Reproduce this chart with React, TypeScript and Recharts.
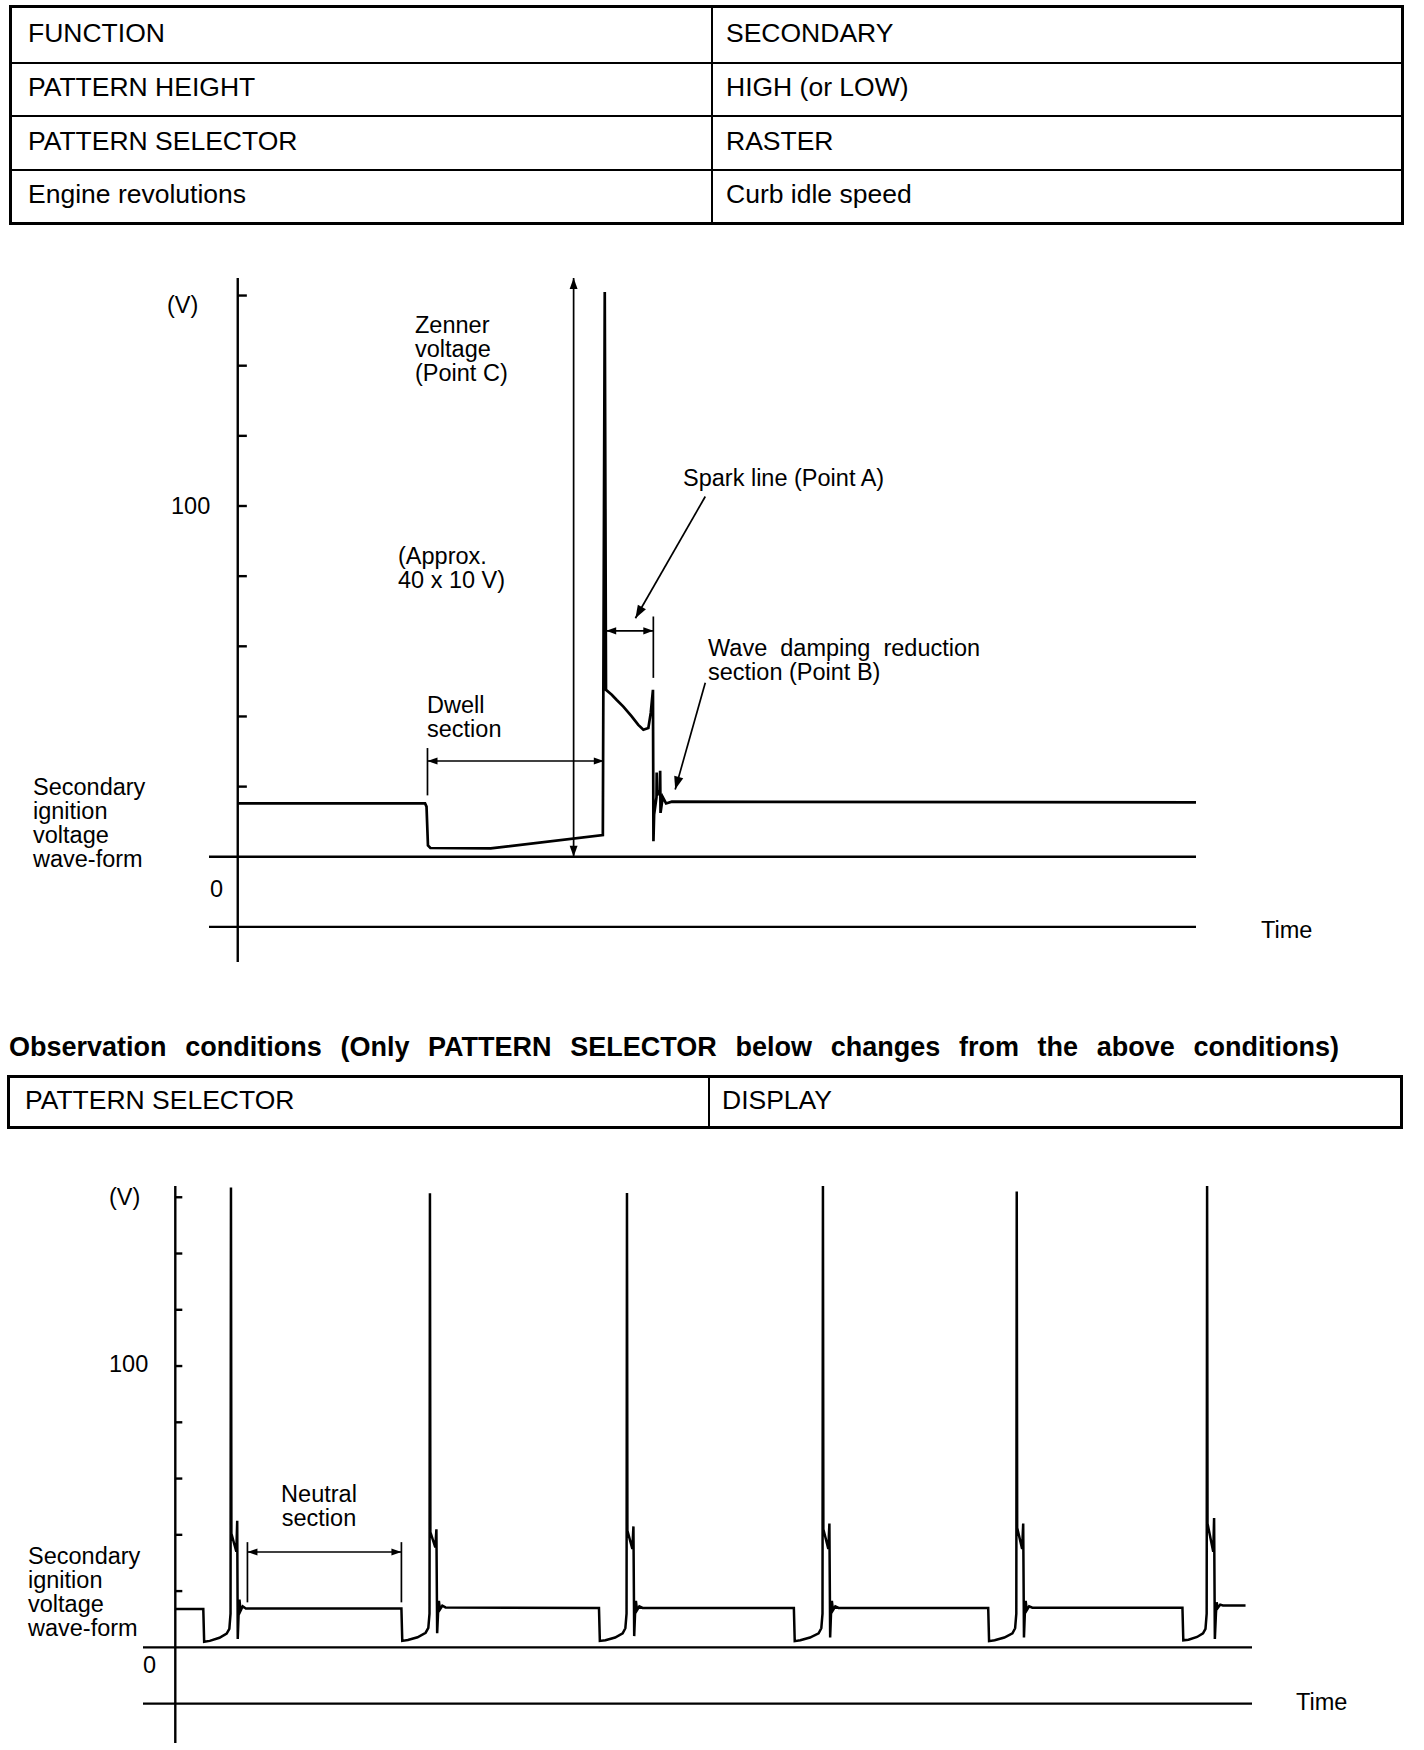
import { LineChart, Line, XAxis, YAxis, ReferenceLine } from 'recharts';

const FONT = '"Liberation Sans", Arial, Helvetica, sans-serif';

// observation conditions
const SETTING_NAMES = ['FUNCTION', 'PATTERN HEIGHT', 'PATTERN SELECTOR', 'Engine revolutions'];
const SETTING_VALUES = ['SECONDARY', 'HIGH (or LOW)', 'RASTER', 'Curb idle speed'];
const CHANGED_NAMES = ['PATTERN SELECTOR'];
const CHANGED_VALUES = ['DISPLAY'];

// y axis tick marks (V)
const VOLT_TICKS = [20, 40, 60, 80, 100, 120, 140, 160];

// RASTER pattern: one ignition cycle (time in arbitrary units, volts)
const RASTER_TIME = [
    0, 19.55, 19.7, 19.85, 20.1, 26.4, 38.1, 38.3, 38.43, 39.03, 39.55, 40.24, 41.11, 41.8, 42.33,
    42.85, 43.1, 43.33, 43.38, 43.45, 43.7, 43.72, 43.76, 44.05, 44.08, 44.12, 44.35, 44.7, 45.3, 100,
];
const RASTER_VOLT = [
    15.2, 15.2, 14.3, 3.2, 2.5, 2.4, 6.2, 161, 47.6, 46.2, 44.7, 42.8, 40.0, 37.6, 36.2,
    36.7, 41.0, 47.6, 4.4, 12, 17, 24, 17.5, 19, 24.5, 12.5, 17, 15.2, 15.7, 15.5,
];

// DISPLAY pattern: six cylinders in a row, [time, volts]
const DISPLAY_START: [number, number][] = [[0, 13.6]];
const CYCLE_1: [number, number][] = [
    [2.6, 13.6], [2.68, 2.0], [3.2, 2.3], [4.1, 3.4], [4.77, 4.9], [5.02, 6.6], [5.13, 12], [5.17, 163.5],
    [5.21, 40.4], [5.67, 34], [5.75, 45], [5.8, 3], [5.88, 12], [5.96, 17], [6.06, 13], [6.26, 14.6], [6.55, 13.8],
];
const CYCLE_2: [number, number][] = [
    [21.0, 13.8], [21.08, 2.3], [21.6, 2.6], [22.5, 3.6], [23.25, 5.2], [23.5, 6.9], [23.61, 12], [23.65, 161.4],
    [23.69, 41], [24.15, 35.5], [24.25, 42], [24.32, 5], [24.4, 12], [24.48, 16.5], [24.58, 13.5], [24.8, 14.8], [25.1, 14.2],
];
const CYCLE_3: [number, number][] = [
    [39.35, 14.0], [39.43, 2.3], [39.95, 2.5], [40.85, 3.5], [41.55, 5.0], [41.8, 6.8], [41.91, 12], [41.95, 161.5],
    [41.99, 41.5], [42.45, 35], [42.55, 43], [42.62, 4], [42.7, 12], [42.78, 16.5], [42.88, 13.2], [43.1, 14.6], [43.4, 14.0],
];
const CYCLE_4: [number, number][] = [
    [57.45, 14.0], [57.53, 2.2], [58.05, 2.5], [58.95, 3.5], [59.75, 5.0], [60.0, 6.8], [60.11, 12], [60.15, 164],
    [60.19, 42], [60.65, 35], [60.75, 44], [60.82, 3.5], [60.9, 12], [60.98, 16.5], [61.08, 13.2], [61.3, 14.6], [61.6, 14.0],
];
const CYCLE_5: [number, number][] = [
    [75.5, 14.0], [75.58, 2.2], [76.1, 2.5], [77.0, 3.5], [77.75, 5.0], [78.0, 6.8], [78.11, 12], [78.15, 162],
    [78.19, 42.5], [78.65, 35], [78.75, 44], [78.82, 3.5], [78.9, 12], [78.98, 16.5], [79.08, 13.2], [79.3, 14.6], [79.6, 14.1],
];
const CYCLE_6: [number, number][] = [
    [93.54, 14.1], [93.62, 2.5], [94.1, 2.7], [94.9, 3.7], [95.45, 5.0], [95.68, 6.6], [95.79, 12], [95.83, 164],
    [95.87, 44], [96.4, 34], [96.48, 46], [96.55, 3], [96.65, 12], [96.72, 16], [96.82, 14], [97.05, 15.2], [97.3, 14.9],
    [99.4, 14.9],
];

const HEADING = 'Observation conditions (Only PATTERN SELECTOR below changes from the above conditions)';

const rasterData = RASTER_TIME.map((t, i) => ({ t, v: RASTER_VOLT[i] }));
const displayData = [
    ...DISPLAY_START, ...CYCLE_1, ...CYCLE_2, ...CYCLE_3, ...CYCLE_4, ...CYCLE_5, ...CYCLE_6,
].map(([t, v]) => ({ t, v }));

// line with optional arrow heads, drawn from the reference line's pixel end points
const arrowShape = (start: boolean, end: boolean, size = 11) => (p: any) => {
    const { x1, y1, x2, y2 } = p;
    const a = Math.atan2(y2 - y1, x2 - x1);
    const head = (x: number, y: number, ang: number) => {
        const w = size * 0.36;
        const bx = x - size * Math.cos(ang);
        const by = y - size * Math.sin(ang);
        return `${x},${y} ${bx - w * Math.sin(ang)},${by + w * Math.cos(ang)} ${bx + w * Math.sin(ang)},${by - w * Math.cos(ang)}`;
    };
    return (
        <g>
            <line x1={x1} y1={y1} x2={x2} y2={y2} stroke="#000" strokeWidth={1.7} />
            {start && <polygon points={head(x1, y1, a + Math.PI)} fill="#000" />}
            {end && <polygon points={head(x2, y2, a)} fill="#000" />}
        </g>
    );
};

function SettingsTable({ names, values, left, top, width, rowHeight, split, padL, padR }: any) {
    return (
        <div style={{ position: 'absolute', left, top, width, border: '3px solid #000', boxSizing: 'border-box' }}>
            {names.map((n: string, i: number) => (
                <div key={n} style={{ display: 'flex', height: rowHeight, borderTop: i ? '2px solid #000' : 'none', boxSizing: 'border-box' }}>
                    <div style={{ width: split, borderRight: '2px solid #000', paddingLeft: padL, paddingBottom: 3, display: 'flex', alignItems: 'center', boxSizing: 'border-box' }}>{n}</div>
                    <div style={{ flex: 1, paddingLeft: padR, paddingBottom: 3, display: 'flex', alignItems: 'center' }}>{values[i]}</div>
                </div>
            ))}
        </div>
    );
}

function Note({ x, y, text, w, align }: { x: number; y: number; text: string; w?: number; align?: 'center' }) {
    return (
        <div style={{ position: 'absolute', left: x, top: y, width: w, textAlign: align, whiteSpace: 'pre', fontSize: 23.5, lineHeight: '24px' }}>
            {text}
        </div>
    );
}

const AX = { stroke: '#000', strokeWidth: 2.4 };

export default function App() {
    return (
        <div style={{ position: 'absolute', left: 0, top: 0, width: 1424, height: 1750, background: '#fff', color: '#000', fontFamily: FONT, fontSize: 26.5 }}>
            <SettingsTable names={SETTING_NAMES} values={SETTING_VALUES} left={9} top={5} width={1395} rowHeight={53.5} split={701} padL={16} padR={13} />

            <div style={{ position: 'absolute', left: 0, top: 260 }}>
                <LineChart width={1424} height={720} data={rasterData} margin={{ top: 18, right: 228, bottom: 18, left: 209 }}>
                    <XAxis type="number" dataKey="t" domain={[-3, 100]} hide allowDataOverflow />
                    <YAxis type="number" domain={[-30, 165]} hide allowDataOverflow />
                    <ReferenceLine y={0} {...AX} />
                    <ReferenceLine y={-20} {...AX} />
                    <ReferenceLine x={0} {...AX} />
                    {VOLT_TICKS.map((v) => (
                        <ReferenceLine key={v} segment={[{ x: 0, y: v }, { x: 0.95, y: v }]} {...AX} />
                    ))}
                    {/* Zenner voltage arrow */}
                    <ReferenceLine segment={[{ x: 35.05, y: 0 }, { x: 35.05, y: 165 }]} shape={arrowShape(true, true)} />
                    {/* dwell section */}
                    <ReferenceLine segment={[{ x: 19.8, y: 27.3 }, { x: 38.2, y: 27.3 }]} shape={arrowShape(true, true, 10)} />
                    <ReferenceLine segment={[{ x: 19.8, y: 17.5 }, { x: 19.8, y: 31 }]} stroke="#000" strokeWidth={1.7} />
                    {/* spark line */}
                    <ReferenceLine segment={[{ x: 38.45, y: 64.4 }, { x: 43.37, y: 64.4 }]} shape={arrowShape(true, true, 10)} />
                    <ReferenceLine segment={[{ x: 43.37, y: 51 }, { x: 43.37, y: 68.5 }]} stroke="#000" strokeWidth={1.7} />
                    <ReferenceLine segment={[{ x: 48.79, y: 102.7 }, { x: 41.5, y: 68 }]} shape={arrowShape(false, true, 13)} />
                    {/* wave damping */}
                    <ReferenceLine segment={[{ x: 48.79, y: 49.6 }, { x: 45.65, y: 19.2 }]} shape={arrowShape(false, true, 13)} />
                    <Line dataKey="v" type="linear" dot={false} activeDot={false} stroke="#000" strokeWidth={2.7} isAnimationActive={false} />
                </LineChart>
            </div>

            <div style={{ position: 'absolute', left: 9, top: 1031, width: 1330, fontSize: 27, fontWeight: 'bold', lineHeight: '32px', textAlign: 'justify', textAlignLast: 'justify' }}>
                {HEADING}
            </div>

            <SettingsTable names={CHANGED_NAMES} values={CHANGED_VALUES} left={7} top={1075} width={1396} rowHeight={48} split={700} padL={15} padR={12} />

            <div style={{ position: 'absolute', left: 0, top: 1170 }}>
                <LineChart width={1424} height={580} data={displayData} margin={{ top: 16, right: 172, bottom: 7, left: 143 }}>
                    <XAxis type="number" dataKey="t" domain={[-3, 100]} hide allowDataOverflow />
                    <YAxis type="number" domain={[-34, 164]} hide allowDataOverflow />
                    <ReferenceLine y={0} {...AX} />
                    <ReferenceLine y={-20} {...AX} />
                    <ReferenceLine x={0} {...AX} />
                    {VOLT_TICKS.map((v) => (
                        <ReferenceLine key={v} segment={[{ x: 0, y: v }, { x: 0.65, y: v }]} {...AX} />
                    ))}
                    {/* neutral section */}
                    <ReferenceLine segment={[{ x: 6.7, y: 33.9 }, { x: 21.0, y: 33.9 }]} shape={arrowShape(true, true, 10)} />
                    <ReferenceLine segment={[{ x: 6.7, y: 16 }, { x: 6.7, y: 37.4 }]} stroke="#000" strokeWidth={1.7} />
                    <ReferenceLine segment={[{ x: 21.0, y: 16 }, { x: 21.0, y: 37.4 }]} stroke="#000" strokeWidth={1.7} />
                    <Line dataKey="v" type="linear" dot={false} activeDot={false} stroke="#000" strokeWidth={2.5} isAnimationActive={false} />
                </LineChart>
            </div>

            {/* chart 1 texts */}
            <Note x={167} y={293} text="(V)" />
            <Note x={171} y={494} text="100" />
            <Note x={210} y={877} text="0" />
            <Note x={1261} y={918} text="Time" />
            <Note x={33} y={775} text={'Secondary\nignition\nvoltage\nwave-form'} />
            <Note x={415} y={313} text={'Zenner\nvoltage\n(Point C)'} />
            <Note x={398} y={544} text={'(Approx.\n40 x 10 V)'} />
            <Note x={683} y={466} text="Spark line (Point A)" />
            <Note x={708} y={636} text={'Wave  damping  reduction\nsection (Point B)'} />
            <Note x={427} y={693} text={'Dwell\nsection'} />

            {/* chart 2 texts */}
            <Note x={109} y={1185} text="(V)" />
            <Note x={109} y={1352} text="100" />
            <Note x={143} y={1653} text="0" />
            <Note x={1296} y={1690} text="Time" />
            <Note x={28} y={1544} text={'Secondary\nignition\nvoltage\nwave-form'} />
            <Note x={276} y={1482} w={86} align="center" text={'Neutral\nsection'} />
        </div>
    );
}
